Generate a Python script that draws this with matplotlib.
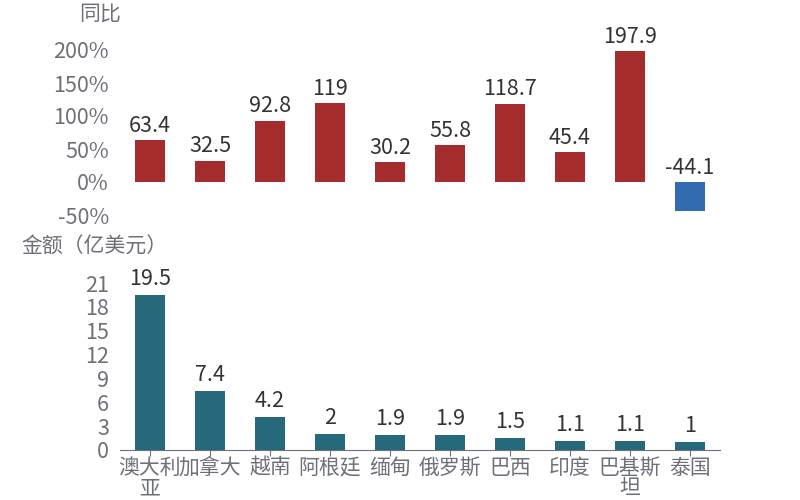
import matplotlib.pyplot as plt

plt.rcParams['font.family'] = ['Noto Sans CJK SC', 'DejaVu Sans']

# data
countries = ['澳大利\n亚', '加拿大', '越南', '阿根廷', '缅甸', '俄罗斯', '巴西', '印度', '巴基斯\n坦', '泰国']
yoy = [63.4, 32.5, 92.8, 119, 30.2, 55.8, 118.7, 45.4, 197.9, -44.1]
amount = [19.5, 7.4, 4.2, 2, 1.9, 1.9, 1.5, 1.1, 1.1, 1]
yoy_ticks = [-50, 0, 50, 100, 150, 200]
amount_ticks = [0, 3, 6, 9, 12, 15, 18, 21]

RED = '#A52C2C'
BLUE = '#336BB0'
TEAL = '#26697A'
GRAY = '#6E7079'
LABEL = '#333333'

fig = plt.figure(figsize=(8, 5), dpi=100)
ax1 = fig.add_axes([0.15, 0.57, 0.75, 0.33])
ax2 = fig.add_axes([0.15, 0.10, 0.75, 0.334])

x = range(len(countries))

# top: year-on-year change
colors = [RED if v >= 0 else BLUE for v in yoy]
ax1.bar(x, yoy, width=0.5, color=colors)
for i, v in enumerate(yoy):
    ax1.text(i, max(v, 0) + 5, f'{v:g}', ha='center', va='bottom',
             fontsize=15.5, color=LABEL)
ax1.set_ylim(-50, 200)
ax1.set_xlim(-0.5, len(countries) - 0.5)
ax1.set_yticks(yoy_ticks)
ax1.set_yticklabels([f'{t}%' for t in yoy_ticks])
ax1.set_xticks([])
for s in ax1.spines.values():
    s.set_visible(False)
ax1.tick_params(axis='y', length=0, labelsize=15.5, labelcolor=GRAY, pad=8)
fig.text(0.125, 0.972, '同比', ha='center', va='center', fontsize=15, color=GRAY)

# bottom: amount
ax2.bar(x, amount, width=0.5, color=TEAL)
for i, v in enumerate(amount):
    ax2.text(i, v + 0.6, f'{v:g}', ha='center', va='bottom',
             fontsize=15.5, color=LABEL)
ax2.set_ylim(0, 21)
ax2.set_xlim(-0.5, len(countries) - 0.5)
ax2.set_yticks(amount_ticks)
ax2.set_xticks(list(x))
ax2.set_xticklabels(countries, linespacing=0.9)
for side in ['top', 'right', 'left']:
    ax2.spines[side].set_visible(False)
ax2.spines['bottom'].set_color(GRAY)
ax2.tick_params(axis='y', length=0, labelsize=15.5, labelcolor=GRAY, pad=8)
ax2.tick_params(axis='x', length=4, color=GRAY, labelsize=15, labelcolor=GRAY, pad=1)
fig.text(0.118, 0.506, '金额（亿美元）', ha='center', va='center', fontsize=15, color=GRAY)

plt.savefig('out.png')
